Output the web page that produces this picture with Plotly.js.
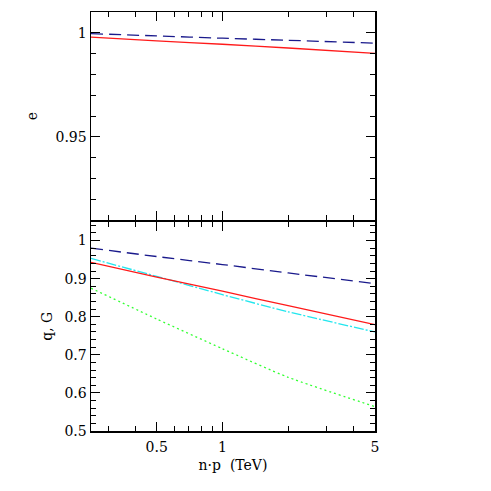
<!DOCTYPE html>
<html>
<head>
<meta charset="utf-8">
<script src="https://cdn.plot.ly/plotly-3.0.1.min.js"></script>
<style>html,body{margin:0;padding:0;background:#fff;}#chart{width:491px;height:491px;}</style>
</head>
<body>
<div id="chart"></div>
<script>
// energies n·p (TeV)
const energy = [0.25, 0.5, 1, 2, 5];

// top panel: e
const eDashed = [0.9996, 0.9985, 0.9974, 0.9964, 0.9950];
const eSolid  = [0.9979, 0.9961, 0.9945, 0.9927, 0.9901];

// bottom panel: q, G
const qDashed = [0.980, 0.958, 0.937, 0.915, 0.887];
const qSolid  = [0.943, 0.904, 0.867, 0.829, 0.779];
const qDashDot = [0.953, 0.906, 0.858, 0.813, 0.760];
const qDotted = [0.875, 0.794, 0.716, 0.641, 0.564];

// ticks
const xMajor = [0.5, 1, 5];
const xMajorText = ["0.5", "1", "5"];
const xMinor = [0.3, 0.4, 0.6, 0.7, 0.8, 0.9, 2, 3, 4];
const yTopMajor = [0.95, 1];
const yTopMajorText = ["0.95", "1"];
const yTopMinor = [0.92, 0.93, 0.94, 0.96, 0.97, 0.98, 0.99, 1.0];
const yBotMajor = [0.5, 0.6, 0.7, 0.8, 0.9, 1.0];
const yBotMajorText = ["0.5", "0.6", "0.7", "0.8", "0.9", "1"];
const yBotMinor = [0.52,0.54,0.56,0.58,0.62,0.64,0.66,0.68,0.72,0.74,0.76,0.78,0.82,0.84,0.86,0.88,0.92,0.94,0.96,0.98,1.02,1.04];

const FONT = "DejaVu Serif, serif";

function line(x, y, xa, ya, color, dash) {
  return {x: x, y: y, xaxis: xa, yaxis: ya, type: 'scatter', mode: 'lines',
    line: {color: color, width: 1.3, dash: dash, shape: 'spline', smoothing: 0.6},
    hoverinfo: 'skip', showlegend: false};
}

const data = [
  line(energy, eDashed, 'x2', 'y2', '#1a1a8c', '12px,6px'),
  line(energy, eSolid, 'x2', 'y2', '#ff1a1a', 'solid'),
  line(energy, qDashed, 'x', 'y', '#1a1a8c', '12px,6px'),
  line(energy, qDotted, 'x', 'y', '#33ff33', '2px,3px'),
  line(energy, qDashDot, 'x', 'y', '#22e6ee', '10px,2px,2px,2px'),
  line(energy, qSolid, 'x', 'y', '#ff1a1a', 'solid')
];

const xBase = {
  type: 'log', range: [Math.log10(0.25), Math.log10(5)],
  tickmode: 'array', tickvals: xMajor, ticktext: xMajorText,
  ticks: 'inside', ticklen: 9, tickwidth: 1, tickcolor: '#000',
  minor: {tickmode: 'array', tickvals: xMinor, ticks: 'inside', ticklen: 5, tickwidth: 1, tickcolor: '#000'},
  showline: true, linecolor: '#000', linewidth: 1.5, mirror: 'allticks',
  showgrid: false, zeroline: false,
  tickfont: {family: FONT, size: 14, color: '#000'}
};

const layout = {
  width: 491, height: 491,
  margin: {l: 91, r: 116, t: 12, b: 60},
  paper_bgcolor: '#fff', plot_bgcolor: '#fff',
  font: {family: FONT, color: '#000'},
  xaxis: Object.assign({}, xBase, {
    anchor: 'y', ticklabelstandoff: 3,
    title: {text: 'n·p  (TeV)', font: {family: FONT, size: 14, color: '#000'}, standoff: 6}
  }),
  xaxis2: Object.assign({}, xBase, {anchor: 'y2', matches: 'x', showticklabels: false}),
  yaxis: {
    domain: [0, 0.5], range: [0.5, 1.05],
    tickmode: 'array', tickvals: yBotMajor, ticktext: yBotMajorText,
    ticks: 'inside', ticklen: 9, tickwidth: 1, tickcolor: '#000',
    minor: {tickmode: 'array', tickvals: yBotMinor, ticks: 'inside', ticklen: 5, tickwidth: 1, tickcolor: '#000'},
    showline: true, linecolor: '#000', linewidth: 1.5, mirror: 'allticks',
    showgrid: false, zeroline: false,
    tickfont: {family: FONT, size: 14, color: '#000'},
    title: {text: 'q, G', font: {family: FONT, size: 14, color: '#000'}, standoff: 8}
  },
  yaxis2: {
    domain: [0.5036, 1], range: [0.91, 1.01], anchor: 'x2',
    tickmode: 'array', tickvals: yTopMajor, ticktext: yTopMajorText,
    ticks: 'inside', ticklen: 9, tickwidth: 1, tickcolor: '#000',
    minor: {tickmode: 'array', tickvals: yTopMinor, ticks: 'inside', ticklen: 5, tickwidth: 1, tickcolor: '#000'},
    showline: true, linecolor: '#000', linewidth: 1.5, mirror: 'allticks',
    showgrid: false, zeroline: false,
    tickfont: {family: FONT, size: 14, color: '#000'},
    title: {text: 'e', font: {family: FONT, size: 14, color: '#000'}, standoff: 14}
  }
};

Plotly.newPlot('chart', data, layout, {staticPlot: true, displayModeBar: false});
</script>
</body>
</html>
